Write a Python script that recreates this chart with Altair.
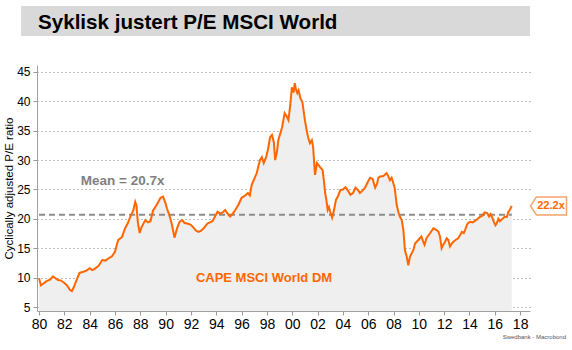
import altair as alt
import pandas as pd

# --- data ---
years = [1980.00, 1980.15, 1980.35, 1980.6, 1980.9, 1981.1, 1981.3, 1981.5, 1981.75, 1982.0,
         1982.2, 1982.45, 1982.6, 1982.75, 1983.0, 1983.2, 1983.5, 1983.75, 1984.0, 1984.2,
         1984.4, 1984.7, 1985.0, 1985.25, 1985.5, 1985.75, 1986.0, 1986.25, 1986.55, 1986.8,
         1987.0, 1987.2, 1987.45, 1987.6, 1987.7, 1987.8, 1987.95, 1988.1, 1988.4, 1988.6,
         1988.8, 1989.0, 1989.3, 1989.6, 1989.8, 1990.0, 1990.1, 1990.3, 1990.5, 1990.7,
         1990.9, 1991.1, 1991.3, 1991.5, 1991.7, 1992.0, 1992.2, 1992.4, 1992.6, 1992.8,
         1993.0, 1993.3, 1993.5, 1993.7, 1994.1, 1994.3, 1994.5, 1994.7, 1995.0, 1995.1,
         1995.3, 1995.5, 1995.75, 1996.0, 1996.25, 1996.5, 1996.65, 1996.8, 1997.0, 1997.2,
         1997.35, 1997.45, 1997.6, 1997.75, 1997.95, 1998.1, 1998.25, 1998.4, 1998.55, 1998.65,
         1998.8, 1998.9, 1999.2, 1999.4, 1999.55, 1999.7, 1999.85, 1999.97, 2000.1, 2000.2,
         2000.3, 2000.4, 2000.5, 2000.65, 2000.8, 2001.0, 2001.15, 2001.25, 2001.4, 2001.55,
         2001.65, 2001.8, 2001.95, 2002.2, 2002.4, 2002.5, 2002.6, 2002.7, 2002.8, 2002.9,
         2003.0, 2003.15, 2003.3, 2003.45, 2003.6, 2003.8, 2004.0, 2004.2, 2004.4, 2004.6,
         2004.8, 2005.0, 2005.2, 2005.35, 2005.55, 2005.75, 2005.95, 2006.15, 2006.35, 2006.55,
         2006.7, 2006.8, 2006.94, 2007.2, 2007.46, 2007.6, 2007.72, 2007.85, 2007.98, 2008.1,
         2008.25, 2008.4, 2008.5, 2008.65, 2008.78, 2008.9, 2009.04, 2009.17, 2009.3, 2009.45,
         2009.57, 2009.7, 2009.96, 2010.2, 2010.35, 2010.45, 2010.6, 2010.9, 2011.15, 2011.4,
         2011.55, 2011.67, 2011.8, 2011.95, 2012.07, 2012.2, 2012.33, 2012.46, 2012.6, 2012.73,
         2012.9, 2013.1, 2013.25, 2013.4, 2013.55, 2013.65, 2013.8, 2013.9, 2014.05, 2014.25,
         2014.45, 2014.6, 2014.8, 2015.0, 2015.2, 2015.4, 2015.55, 2015.67, 2015.8, 2015.9,
         2016.05, 2016.15, 2016.28, 2016.4, 2016.55, 2016.7, 2016.8, 2016.95, 2017.07, 2017.2,
         2017.34]
cape = [9.9, 8.7, 9.0, 9.4, 9.7, 10.2, 9.9, 9.6, 9.5, 9.1,
        8.7, 7.9, 7.7, 8.4, 9.8, 10.8, 11.0, 11.2, 11.6, 11.3,
        11.5, 12.0, 13.0, 12.9, 13.3, 13.6, 14.4, 16.4, 16.9, 18.4,
        19.2, 20.3, 21.5, 22.9, 22.3, 19.5, 17.6, 18.6, 19.8, 19.4,
        19.6, 21.4, 22.4, 23.6, 23.8, 22.6, 21.8, 20.6, 19.0, 16.8,
        18.4, 19.5, 19.8, 19.3, 19.2, 19.0, 18.5, 18.0, 17.8, 18.0,
        18.4, 19.2, 19.4, 19.6, 21.2, 20.9, 21.1, 21.5, 20.6, 20.4,
        20.9, 21.5, 22.4, 23.6, 23.9, 24.4, 24.0, 25.8, 26.8, 27.8,
        29.2, 30.0, 30.5, 29.5, 30.6, 32.0, 33.9, 34.3, 33.0, 30.0,
        31.5, 33.4, 35.6, 38.0, 37.5, 36.8, 39.5, 42.4, 41.5, 43.1,
        42.0, 41.4, 41.9, 40.5, 39.9, 36.8, 35.0, 33.9, 32.9, 33.4,
        32.2, 27.5, 29.5, 28.8, 28.3, 26.5, 24.4, 23.2, 21.5, 22.0,
        21.2, 20.2, 21.5, 23.2, 23.8, 24.9, 25.0, 25.4, 24.8, 24.1,
        24.4, 25.3, 24.9, 24.4, 24.8, 25.3, 26.2, 27.0, 26.8, 25.3,
        26.0, 27.0, 27.2, 27.3, 27.8, 27.2, 26.6, 27.0, 26.1, 25.2,
        22.4, 21.0, 20.4, 19.8, 18.1, 14.7, 13.6, 12.1, 13.6, 14.2,
        14.7, 15.8, 16.4, 17.0, 16.1, 15.6, 16.7, 17.6, 18.4, 18.1,
        17.8, 17.0, 15.0, 15.7, 16.1, 16.7, 16.4, 15.3, 15.8, 16.1,
        16.4, 16.7, 17.2, 17.8, 17.6, 18.1, 19.0, 19.3, 19.5, 19.4,
        19.7, 19.9, 20.3, 20.5, 21.1, 21.0, 20.4, 20.8, 20.2, 19.6,
        18.9, 19.2, 20.0, 19.6, 19.9, 20.2, 20.4, 20.3, 21.2, 21.6,
        22.2]
mean_value = 20.7
last_value = 22.2
x_tick_values = list(range(1980, 2019, 2))
y_tick_values = [5, 10, 15, 20, 25, 30, 35, 40, 45]

title_text = "Syklisk justert P/E MSCI World"
y_title = "Cyclically adjusted P/E ratio"
mean_label = "Mean = 20.7x"
series_label = "CAPE MSCI World DM"
last_label = "22.2x"
source_text = "Swedbank - Macrobond"

# --- layout ---
W, H = 493, 246
PAD_L, PAD_T = 37, 65
X_DOM = [1979.84, 2018.78]
Y_DOM = [4.32, 46.19]
ORANGE = "#ff6600"
FONT = "Liberation Sans"
NARROW = "Liberation Sans Narrow, Liberation Sans"

df = pd.DataFrame({"year": years, "cape": cape})

x_scale = alt.Scale(domain=X_DOM, nice=False, zero=False)
y_scale = alt.Scale(domain=Y_DOM, nice=False, zero=False)

x_axis = alt.Axis(values=x_tick_values, labelExpr="substring(toString(datum.value), 2, 4)",
                  grid=False, tickSize=4, tickColor="#999", domainColor="#a0a0a0",
                  labelFont=NARROW, labelFontSize=14, labelColor="#000", labelPadding=2,
                  title=None, labelFlush=False, labelOverlap=False)
y_axis = alt.Axis(values=y_tick_values, grid=True, gridDash=[1, 3], gridColor="#7a7a7a",
                  gridWidth=1, tickSize=4, tickColor="#999", domainColor="#a0a0a0",
                  labelFont=FONT, labelFontSize=12, labelColor="#000", labelPadding=3,
                  labelOverlap=False, labelFlush=False,
                  title=y_title, titleFont=FONT, titleFontSize=11.5, titleFontWeight="normal",
                  titleColor="#000", titleX=-23, titleY=H / 2, titleAngle=270,
                  titleBaseline="bottom", titleAlign="center")

base = alt.Chart(df)

area = base.mark_area(color="#efefef").encode(
    x=alt.X("year:Q", scale=x_scale, axis=x_axis),
    y=alt.Y("cape:Q", scale=y_scale, axis=y_axis),
    y2=alt.datum(Y_DOM[0]),
)

line = base.mark_line(color=ORANGE, strokeWidth=2).encode(
    x=alt.X("year:Q", scale=x_scale, axis=x_axis),
    y=alt.Y("cape:Q", scale=y_scale, axis=y_axis),
)

one = pd.DataFrame({"k": [0]})

mean_rule = alt.Chart(one).mark_rule(color="#8c8c8c", strokeWidth=2, strokeDash=[6, 4]).encode(
    x=alt.datum(years[0], scale=x_scale, axis=x_axis),
    x2=alt.datum(years[-1]),
    y=alt.datum(mean_value, scale=y_scale, axis=y_axis),
)

mean_text = alt.Chart(one).mark_text(
    text=mean_label, font=FONT, fontSize=13.5, fontWeight="bold", color="#7f7f7f",
    align="left", baseline="middle",
).encode(x=alt.datum(1983.3, scale=x_scale, axis=x_axis),
         y=alt.datum(26.45, scale=y_scale, axis=y_axis))

series_text = alt.Chart(one).mark_text(
    text=series_label, font=FONT, fontSize=13, fontWeight="bold", color=ORANGE,
    align="center", baseline="middle",
).encode(x=alt.datum(1997.77, scale=x_scale, axis=x_axis),
         y=alt.datum(10.0, scale=y_scale, axis=y_axis))

callout = alt.Chart(one).mark_point(
    shape="M -1 0 L -0.67 -0.5 L 1 -0.5 L 1 0.5 L -0.67 0.5 Z",
    size=1296, filled=True, fill="white", stroke="#f5a46b", strokeWidth=1.5, opacity=1,
).encode(x=alt.value(548.5 - PAD_L), y=alt.datum(last_value, scale=y_scale, axis=y_axis))

callout_text = alt.Chart(one).mark_text(
    text=last_label, font=FONT, fontSize=11, fontWeight="bold", color=ORANGE,
    align="center", baseline="middle",
).encode(x=alt.value(551 - PAD_L), y=alt.datum(last_value, scale=y_scale, axis=y_axis))

title_box = alt.Chart(one).mark_rect(color="#d9d9d9").encode(
    x=alt.value(21 - PAD_L), x2=alt.value(530 - PAD_L),
    y=alt.value(6 - PAD_T), y2=alt.value(36 - PAD_T),
)
title_txt = alt.Chart(one).mark_text(
    text=title_text, font=FONT, fontSize=20.6, fontWeight="bold", color="#000",
    align="left", baseline="alphabetic",
).encode(x=alt.value(38 - PAD_L), y=alt.value(29 - PAD_T))

source = alt.Chart(one).mark_text(
    text=source_text, font=FONT, fontSize=6, color="#555", align="right", baseline="middle",
).encode(x=alt.value(566 - PAD_L), y=alt.value(337 - PAD_T))

chart = alt.layer(
    area, mean_rule, line, mean_text, series_text, callout, callout_text,
    title_box, title_txt, source,
).properties(
    width=W, height=H,
    autosize=alt.AutoSizeParams(type="none"),
    padding={"left": PAD_L, "top": PAD_T, "right": 572 - PAD_L - W, "bottom": 350 - PAD_T - H},
    background="white",
).configure_view(stroke=None)

chart.save("out.html", embed_options={"renderer": "svg", "actions": False})
